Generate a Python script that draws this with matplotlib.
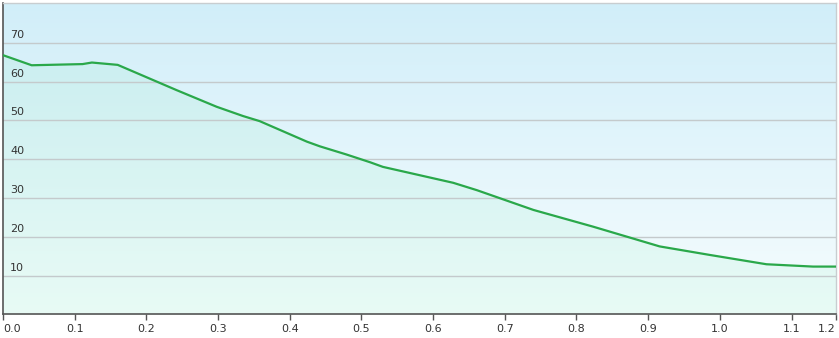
import numpy as np
import matplotlib
matplotlib.use("Agg")
import matplotlib.pyplot as plt
from matplotlib.colors import LinearSegmentedColormap

# traced series
x_vals = [0.0, 0.040, 0.111, 0.124, 0.160, 0.242, 0.298, 0.335, 0.358, 0.424,
          0.442, 0.479, 0.512, 0.530, 0.628, 0.661, 0.740, 0.823, 0.916,
          0.986, 1.065, 1.130, 1.162]
y_vals = [66.8, 64.2, 64.5, 64.9, 64.3, 57.8, 53.5, 51.1, 49.8, 44.5,
          43.3, 41.2, 39.2, 38.0, 33.9, 32.0, 26.9, 22.6, 17.5,
          15.3, 12.9, 12.3, 12.3]

x_ticks = [0.0, 0.1, 0.2, 0.3, 0.4, 0.5, 0.6, 0.7, 0.8, 0.9, 1.0, 1.1, 1.162]
x_labels = ["0.0", "0.1", "0.2", "0.3", "0.4", "0.5", "0.6", "0.7", "0.8",
            "0.9", "1.0", "1.1", "1.2"]
y_ticks = [10, 20, 30, 40, 50, 60, 70]

X_MAX = 1.162
Y_MAX = 80.3

W, H = 839, 338
fig = plt.figure(figsize=(W / 100, H / 100), dpi=100)
fig.patch.set_facecolor("white")
ax = fig.add_axes([3 / W, (H - 314.3) / H, 833 / W, 311.5 / H])
ax.set_xlim(0, X_MAX)
ax.set_ylim(0, Y_MAX)

# background gradient, light blue at top fading to near white
bg = LinearSegmentedColormap.from_list("bg", ["#f6fdfe", "#d1eef9"])
grad = np.linspace(0, 1, 256).reshape(-1, 1)
ax.imshow(grad, aspect="auto", cmap=bg, origin="lower",
          extent=[0, X_MAX, 0, Y_MAX], zorder=0)

# green area under the curve
ax.fill_between(x_vals, y_vals, 0, color="#2ee07a", alpha=0.065, lw=0, zorder=1)

for yt in y_ticks:
    ax.axhline(yt, color="#c4cacc", lw=1.0, zorder=2)
    ax.annotate(str(yt), xy=(0, yt), xycoords=("axes fraction", "data"),
                xytext=(7, 3), textcoords="offset pixels", ha="left", va="bottom",
                fontsize=8, color="#333333", zorder=3)

ax.plot(x_vals, y_vals, color="#2aa84a", lw=1.6, zorder=4, solid_joinstyle="round")

ax.set_yticks([])
ax.set_xticks(x_ticks)
ax.set_xticklabels(x_labels, fontsize=8, color="#333333")
labs = ax.get_xticklabels()
labs[0].set_ha("left")
labs[-1].set_ha("right")
ax.tick_params(axis="x", direction="out", length=4, width=1, color="#555555", pad=3)

for side in ["left", "bottom"]:
    ax.spines[side].set_color("#555555")
    ax.spines[side].set_linewidth(1.2)
for side in ["top", "right"]:
    ax.spines[side].set_color("#c8cdd0")
    ax.spines[side].set_linewidth(1.0)

fig.savefig("out.png", dpi=100)
